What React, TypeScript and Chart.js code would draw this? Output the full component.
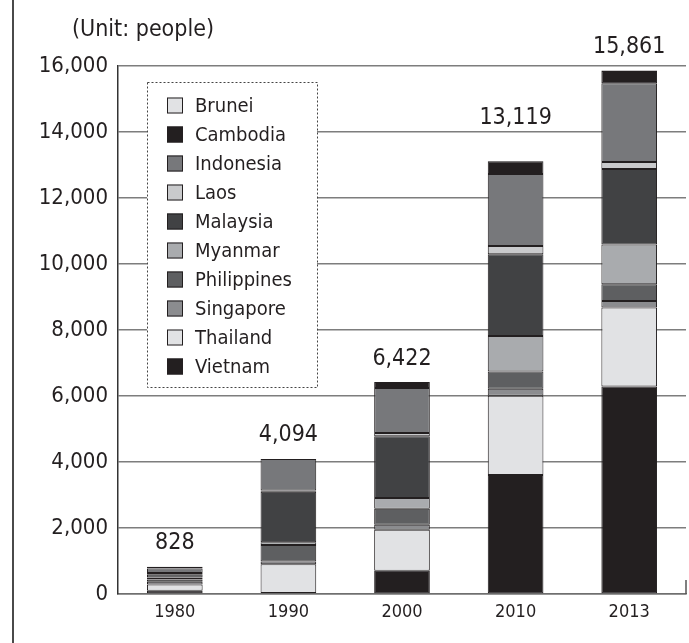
import { useEffect, useRef } from "react";
import { Chart, registerables } from "chart.js";

Chart.register(...registerables);

// Years on the category axis
const years = ["1980", "1990", "2000", "2010", "2013"];

// Countries in legend order (top of the stack first)
const countries = [
  "Brunei",
  "Cambodia",
  "Indonesia",
  "Laos",
  "Malaysia",
  "Myanmar",
  "Philippines",
  "Singapore",
  "Thailand",
  "Vietnam",
];

// People per country and year
const brunei = [8, 0, 0, 9, 11];
const cambodia = [50, 0, 180, 380, 370];
const indonesia = [130, 958, 1364, 2184, 2390];
const laos = [40, 41, 101, 251, 210];
const malaysia = [100, 1528, 1868, 2477, 2290];
const myanmar = [60, 80, 323, 1076, 1200];
const philippines = [70, 502, 485, 523, 510];
const singapore = [80, 80, 152, 211, 200];
const thailand = [190, 875, 1242, 2405, 2390];
const vietnam = [100, 30, 707, 3603, 6290];

// Y-axis ticks
const yTicks = [0, 2000, 4000, 6000, 8000, 10000, 12000, 14000, 16000];

const seriesValues = [
  brunei,
  cambodia,
  indonesia,
  laos,
  malaysia,
  myanmar,
  philippines,
  singapore,
  thailand,
  vietnam,
];

const fills = [
  "#e1e2e4",
  "#231f20",
  "#77787b",
  "#c9cacc",
  "#414244",
  "#a9abae",
  "#5e5f61",
  "#8b8c8f",
  "#e1e2e4",
  "#231f20",
];

const INK = "#231f20";
const FONT = '"DejaVu Sans Condensed", "DejaVu Sans", sans-serif';

// Extra lift for a total label (2010 sits higher)
const totalLift = [0, 0, 0, 20, 0];

const decorPlugin = {
  id: "decor",
  beforeDraw(chart: any) {
    const { ctx } = chart;
    ctx.save();
    ctx.fillStyle = "#ffffff";
    ctx.fillRect(0, 0, chart.width, chart.height);
    // frame line on the left
    ctx.strokeStyle = "#4a4a4a";
    ctx.lineWidth = 2;
    ctx.beginPath();
    ctx.moveTo(13, 0);
    ctx.lineTo(13, chart.height);
    ctx.stroke();
    // unit caption
    ctx.fillStyle = INK;
    ctx.font = `23px ${FONT}`;
    ctx.textAlign = "left";
    ctx.textBaseline = "middle";
    ctx.fillText("(Unit: people)", 72, 30);
    ctx.restore();
  },
  afterDraw(chart: any) {
    const { ctx, chartArea } = chart;
    const yScale = chart.scales.y;
    const xScale = chart.scales.x;
    ctx.save();

    // short right edge mark at the baseline
    ctx.strokeStyle = "#555";
    ctx.lineWidth = 1.5;
    ctx.beginPath();
    ctx.moveTo(chartArea.right, chartArea.bottom - 14);
    ctx.lineTo(chartArea.right, chartArea.bottom);
    ctx.stroke();

    // totals above each stack
    ctx.fillStyle = INK;
    ctx.font = `23px ${FONT}`;
    ctx.textAlign = "center";
    ctx.textBaseline = "bottom";
    years.forEach((_, i) => {
      const total = seriesValues.reduce((s, arr) => s + arr[i], 0);
      const x = xScale.getPixelForValue(i);
      const y = yScale.getPixelForValue(total) - 12 - totalLift[i];
      ctx.fillText(total.toLocaleString("en-US"), x, y);
    });

    // legend box
    const bx = 147;
    const by = 82;
    const bw = 170;
    const bh = 305;
    ctx.fillStyle = "#ffffff";
    ctx.fillRect(bx, by, bw, bh);
    ctx.strokeStyle = "#444";
    ctx.lineWidth = 1;
    ctx.setLineDash([2, 2]);
    ctx.strokeRect(bx + 0.5, by + 0.5, bw, bh);
    ctx.setLineDash([]);

    ctx.font = `20px ${FONT}`;
    ctx.textAlign = "left";
    ctx.textBaseline = "middle";
    countries.forEach((name, i) => {
      const cy = 105.5 + i * 29;
      ctx.fillStyle = fills[i];
      ctx.fillRect(167, cy - 8, 16, 16);
      ctx.strokeStyle = INK;
      ctx.lineWidth = 1;
      ctx.strokeRect(167.5, cy - 7.5, 15, 15);
      ctx.fillStyle = INK;
      ctx.fillText(name, 195, cy + 1);
    });
    ctx.restore();
  },
};

export default function App() {
  const canvasRef = useRef<HTMLCanvasElement | null>(null);

  useEffect(() => {
    if (!canvasRef.current) return;
    // bottom of the stack first
    const datasets = countries
      .map((name, i) => ({
        label: name,
        data: seriesValues[i],
        backgroundColor: fills[i],
        borderColor: INK,
        borderWidth: 1,
        borderSkipped: false as const,
        barPercentage: 0.49,
        categoryPercentage: 1,
      }))
      .reverse();

    const chart = new Chart(canvasRef.current, {
      type: "bar",
      data: { labels: years, datasets },
      options: {
        responsive: false,
        animation: false,
        devicePixelRatio: 1,
        layout: { padding: { top: 66, right: 3, left: 0, bottom: 0 } },
        plugins: {
          legend: { display: false },
          tooltip: { enabled: false },
        },
        scales: {
          x: {
            stacked: true,
            grid: { display: false, drawTicks: false },
            border: { display: true, color: "#6f6f6f", width: 1.5 },
            ticks: {
              color: INK,
              font: { family: FONT, size: 18 },
              padding: 8,
            },
            afterFit: (s: any) => {
              s.height = 49;
            },
          },
          y: {
            stacked: true,
            min: 0,
            max: 16000,
            afterBuildTicks: (s: any) => {
              s.ticks = yTicks.map((v) => ({ value: v }));
            },
            grid: {
              color: "#7d7d7d",
              lineWidth: 1.5,
              drawTicks: false,
            },
            border: { display: true, color: "#333", width: 1.5 },
            ticks: {
              color: INK,
              font: { family: FONT, size: 22 },
              padding: 10,
              callback: (v: any) => Number(v).toLocaleString("en-US"),
            },
            afterFit: (s: any) => {
              s.width = 118;
            },
          },
        },
      },
      plugins: [decorPlugin],
    });
    return () => chart.destroy();
  }, []);

  return (
    <div style={{ position: "fixed", left: 0, top: 0, width: 689, height: 643 }}>
      <canvas ref={canvasRef} width={689} height={643} />
    </div>
  );
}
